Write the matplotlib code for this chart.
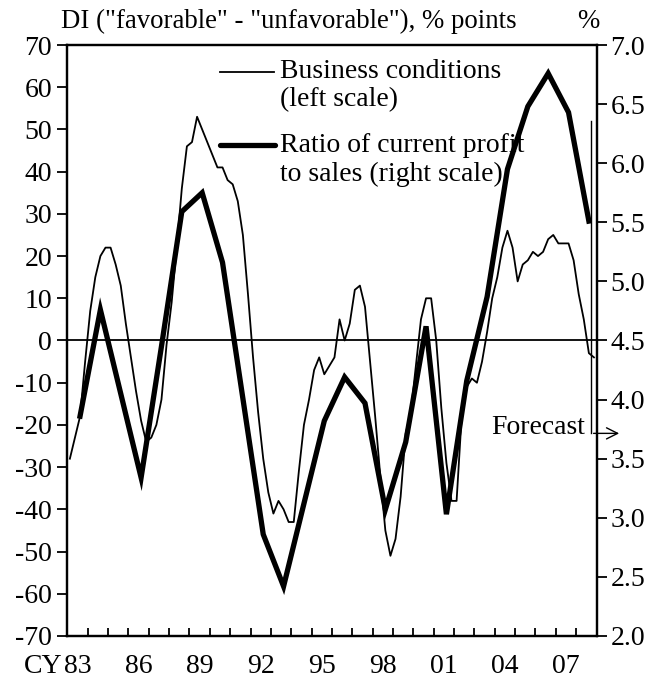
import numpy as np
import matplotlib
matplotlib.use("Agg")
from matplotlib import pyplot as plt
from matplotlib import transforms

plt.rcParams['font.family'] = ['Liberation Serif', 'DejaVu Serif']
plt.rcParams['font.size'] = 20
plt.rcParams['axes.unicode_minus'] = False

# Business conditions DI, quarterly, 1983Q1 - 2008Q4 (last one is forecast)
di = [-28, -23, -18, -5,
      7, 15, 20, 22,
      22, 18, 13, 4,
      -4, -12, -19, -24,
      -23, -20, -14, -1,
      9, 22, 36, 46,
      47, 53, 50, 47,
      44, 41, 41, 38,
      37, 33, 25, 11,
      -4, -17, -28, -36,
      -41, -38, -40, -43,
      -43, -31, -20, -14,
      -7, -4, -8, -6,
      -4, 5, 0, 4,
      12, 13, 8, -5,
      -18, -32, -45, -51,
      -47, -37, -22, -17,
      -6, 5, 10, 10,
      0, -16, -29, -38,
      -38, -18, -11, -9,
      -10, -5, 2, 10,
      15, 22, 26, 22,
      14, 18, 19, 21,
      20, 21, 24, 25,
      23, 23, 23, 19,
      11, 5, -3, -4]

# Ratio of current profit to sales, fiscal years 1983 - 2008 (last one is forecast)
fy = list(range(1983, 2009))
ratio = [3.86, 4.76, 4.05, 3.34, 4.45, 5.59, 5.75, 5.16, 4.01, 2.86, 2.42, 3.12, 3.82,
         4.19, 3.97, 3.07, 3.64, 4.62, 3.03, 4.16, 4.87, 5.95, 6.48, 6.76, 6.43, 5.51]

year_labels = ["83", "86", "89", "92", "95", "98", "01", "04", "07"]
year_label_pos = [1983, 1986, 1989, 1992, 1995, 1998, 2001, 2004, 2007]

t_q = 1983 + (np.arange(len(di)) + 0.5) / 4
t_fy = np.array(fy) + 0.625

fig = plt.figure(figsize=(6.53, 6.86), dpi=100)
ax = fig.add_axes([0.1031, 0.0729, 0.8104, 0.8615])
ax2 = ax.twinx()

ax.plot(t_q, di, color='black', lw=1.3)
ax.axhline(0, color='black', lw=1.3)
ax2.plot(t_fy, ratio, color='black', lw=3.8, solid_joinstyle='miter')

ax.set_xlim(1983, 2009)
ax.set_ylim(-70, 70)
ax2.set_ylim(2.0, 7.0)
ax.set_yticks(np.arange(-70, 71, 10))
ax2.set_yticks(np.arange(2.0, 7.01, 0.5))
ax2.set_yticklabels([f"{v:.1f}" for v in np.arange(2.0, 7.01, 0.5)])

ax.set_xticks(np.arange(1984, 2009))
ax.set_xticklabels([])
ax.tick_params(axis='x', direction='in', length=6, width=1.3)
ax.tick_params(axis='y', direction='out', length=7, width=1.3, pad=4)
ax2.tick_params(axis='y', direction='out', length=7, width=1.3, pad=3)
for a in (ax, ax2):
    for s in a.spines.values():
        s.set_linewidth(1.6)

# year labels under the axis
trans = transforms.blended_transform_factory(ax.transData, ax.transAxes)
for lab, pos in zip(year_labels, year_label_pos):
    ax.text(pos + 0.5, -0.052, lab, transform=trans, ha='center', va='center')
ax.text(year_label_pos[0] + 0.5 - 0.75, -0.052, "CY", transform=trans, ha='right', va='center')

# axis captions
fig.text(0.094, 0.969, 'DI ("favorable" - "unfavorable"), % points', ha='left', va='center',
         fontsize=19.3)
fig.text(0.884, 0.969, '%', ha='left', va='center', fontsize=19.3)

# legend
ax.plot([0.289, 0.39], [0.955, 0.955], color='black', lw=1.3, transform=ax.transAxes)
ax.plot([0.289, 0.392], [0.83, 0.83], color='black', lw=3.8, transform=ax.transAxes,
        solid_capstyle='round')
ax.text(0.402, 0.955, "Business conditions", transform=ax.transAxes, va='center')
ax.text(0.402, 0.907, "(left scale)", transform=ax.transAxes, va='center')
ax.text(0.402, 0.83, "Ratio of current profit", transform=ax.transAxes, va='center')
ax.text(0.402, 0.781, "to sales (right scale)", transform=ax.transAxes, va='center')

# forecast marker
ax.plot([2008.72, 2008.72], [52, -22], color='black', lw=1.0, clip_on=False)
ax.annotate("", xy=(2010.25, -22), xytext=(2008.72, -22),
            arrowprops=dict(arrowstyle='->', color='black', lw=1.0), annotation_clip=False)
ax.text(2008.45, -20.5, "Forecast", ha='right', va='center')

fig.savefig("out.png", dpi=100)
